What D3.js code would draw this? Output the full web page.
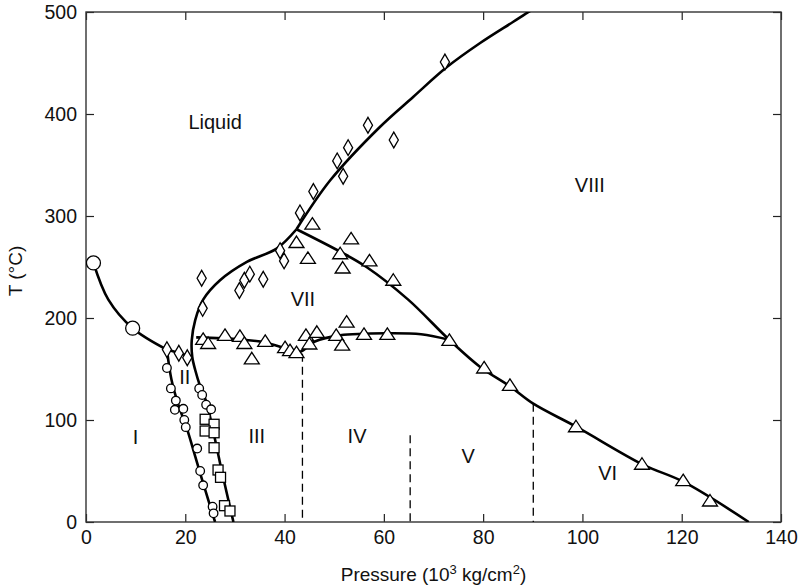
<!DOCTYPE html>
<html>
<head>
<meta charset="utf-8">
<script src="https://cdnjs.cloudflare.com/ajax/libs/d3/7.8.5/d3.min.js"></script>
<style>
  body { margin: 0; background: #fff; }
  svg { font-family: "Liberation Sans", Arial, sans-serif; }
</style>
</head>
<body>
<script>
// phase boundaries, [pressure (10^3 kg/cm2), T (C)]
const meltI = [[1.5, 254], [4.5, 218], [9.4, 190], [16.3, 169]];
const meltII = [[16.3, 169], [21.3, 162]];
const lineI_II = [[16.3, 169], [17.2, 140], [18.6, 115], [20.3, 92], [21.6, 71], [23.6, 38], [26.0, 0]];
const lineIII = [[42.4, 287], [38.4, 268], [32.4, 255], [27.0, 237], [23.6, 218], [22.0, 198], [21.3, 178],
  [21.4, 162], [22.0, 149], [23.0, 133], [24.3, 117], [25.0, 103], [26.3, 74], [27.3, 51], [29.7, 0]];
const meltVIII = [[42.4, 287], [49.2, 335], [59.2, 387.3], [65.9, 416.7], [72.7, 446], [79.4, 469.6],
  [86.0, 490.2], [89.8, 502], [92, 508]];
const lineVII_VIII = [[42.4, 287], [51.2, 265], [56.5, 250], [64.9, 218], [73.3, 178], [79.4, 152],
  [85.4, 133], [90.1, 116], [98.9, 93], [112.3, 56], [120.3, 39.5], [133.5, 0]];
const lineVII_low = [[22.2, 181], [31.0, 179], [36.1, 176], [40.4, 170], [43.1, 167], [46.1, 177],
  [51.2, 183], [60.6, 185], [67.5, 184], [73.3, 178.4]];
const dashed = [[43.6, 165], [65.3, 85], [90.1, 116]];

// measured points
const bigCircles = [[1.5, 254], [9.4, 190]];
const circles = [[16.3, 151], [17.1, 131], [18.1, 119], [17.9, 110], [19.6, 111], [19.8, 100], [20.1, 93],
  [22.4, 72], [23.0, 50], [23.6, 36], [25.5, 15], [25.7, 8.5],
  [22.8, 131], [23.4, 124.5], [24.2, 115], [25.2, 110.5]];
const squares = [[24.0, 100.7], [25.8, 95.8], [24.0, 89.2], [25.8, 87.5], [25.8, 72.8], [26.6, 51],
  [27.1, 43.8], [27.9, 16], [29.0, 10.8]];
const diamonds = [[16.3, 169], [18.7, 165.4], [20.4, 161], [23.3, 239], [23.5, 209.5], [30.9, 227],
  [31.9, 237], [33.0, 243], [35.7, 238], [39.1, 266], [39.9, 256], [43.1, 303], [45.8, 324],
  [50.6, 354], [51.8, 339], [52.8, 367], [56.8, 389], [62.0, 374.5], [72.3, 451]];
const triangles = [[45.6, 292], [42.4, 274], [53.4, 277.5], [51.2, 263], [57.1, 256], [44.7, 258.5],
  [51.7, 249], [61.9, 237], [23.6, 179], [24.6, 175], [28.0, 183], [31.0, 182], [31.9, 175], [33.4, 160],
  [36.1, 177], [40.1, 171], [41.1, 168], [42.4, 166], [44.3, 183], [45.0, 174.5], [46.5, 186],
  [50.4, 183], [51.6, 173.5], [52.5, 196], [56.0, 184], [60.7, 184], [73.2, 178], [80.2, 151],
  [85.4, 134], [98.7, 93.4], [112.0, 56.6], [120.3, 40.5], [125.7, 20.6]];

const phaseLabels = ['Liquid', 'VIII', 'VII', 'II', 'I', 'III', 'IV', 'V', 'VI'];
const phasePos = [[26, 392], [101.5, 330], [43.7, 219], [19.9, 142], [10, 83], [34.4, 84], [54.6, 84], [77, 65], [105.1, 48]];

const xTicks = [0, 20, 40, 60, 80, 100, 120, 140];
const yTicks = [0, 100, 200, 300, 400, 500];

const width = 804, height = 586,
  margin = { top: 12, right: 23, bottom: 64, left: 86 };

const x = d3.scaleLinear().domain([0, 140]).range([margin.left, width - margin.right]);
const y = d3.scaleLinear().domain([0, 500]).range([height - margin.bottom, margin.top]);

const svg = d3.select('body').append('svg')
  .attr('width', width)
  .attr('height', height);

svg.append('clipPath').attr('id', 'plot')
  .append('rect')
  .attr('x', margin.left).attr('y', margin.top)
  .attr('width', width - margin.left - margin.right)
  .attr('height', height - margin.top - margin.bottom);

// axes, ticks pointing inward on all four sides
const axisStyle = g => {
  g.selectAll('.domain').remove();
  g.selectAll('line').attr('stroke', '#222').attr('stroke-width', 1.2);
  g.selectAll('text').attr('font-size', 19.5).attr('fill', '#111');
};

svg.append('g')
  .attr('transform', `translate(0,${y(0)})`)
  .call(d3.axisBottom(x).tickValues(xTicks).tickSize(-8).tickPadding(8))
  .call(axisStyle);
svg.append('g')
  .attr('transform', `translate(0,${y(500)})`)
  .call(d3.axisTop(x).tickValues(xTicks).tickSize(-8).tickFormat(''))
  .call(axisStyle);
svg.append('g')
  .attr('transform', `translate(${x(0)},0)`)
  .call(d3.axisLeft(y).tickValues(yTicks).tickSize(-8).tickPadding(9))
  .call(axisStyle);
svg.append('g')
  .attr('transform', `translate(${x(140)},0)`)
  .call(d3.axisRight(y).tickValues(yTicks).tickSize(-8).tickFormat(''))
  .call(axisStyle);

svg.append('rect')
  .attr('x', x(0)).attr('y', y(500))
  .attr('width', x(140) - x(0)).attr('height', y(0) - y(500))
  .attr('fill', 'none').attr('stroke', '#333').attr('stroke-width', 1.4);

// axis titles
const xt = svg.append('text')
  .attr('x', (x(0) + x(140)) / 2)
  .attr('y', 581)
  .attr('text-anchor', 'middle')
  .attr('font-size', 19)
  .attr('fill', '#111');
xt.append('tspan').text('Pressure (10');
xt.append('tspan').attr('font-size', 13).attr('dy', -7).text('3');
xt.append('tspan').attr('dy', 7).text(' kg/cm');
xt.append('tspan').attr('font-size', 13).attr('dy', -7).text('2');
xt.append('tspan').attr('dy', 7).text(')');

svg.append('text')
  .attr('transform', `translate(22,${(y(0) + y(500)) / 2 + 4}) rotate(-90)`)
  .attr('text-anchor', 'middle')
  .attr('font-size', 19)
  .attr('fill', '#111')
  .text('T (°C)');

// boundaries
const smooth = d3.line().x(d => x(d[0])).y(d => y(d[1])).curve(d3.curveCatmullRom.alpha(0.5));
const plot = svg.append('g').attr('clip-path', 'url(#plot)');

[meltI, meltII, lineI_II, lineIII, meltVIII, lineVII_VIII, lineVII_low].forEach(pts => {
  plot.append('path')
    .attr('d', smooth(pts))
    .attr('fill', 'none')
    .attr('stroke', '#000')
    .attr('stroke-width', 2.6)
    .attr('stroke-linejoin', 'round');
});

plot.selectAll('line.dash')
  .data(dashed)
  .enter().append('line')
  .attr('x1', d => x(d[0])).attr('x2', d => x(d[0]))
  .attr('y1', d => y(d[1])).attr('y2', y(0))
  .attr('stroke', '#000')
  .attr('stroke-width', 1.3)
  .attr('stroke-dasharray', '8,5');

// markers
const mk = { fill: '#fff', stroke: '#000', 'stroke-width': 1.3 };
const applyMk = sel => Object.entries(mk).forEach(([k, v]) => sel.attr(k, v));

plot.selectAll('path.diamond')
  .data(diamonds)
  .enter().append('path')
  .attr('transform', d => `translate(${x(d[0])},${y(d[1])})`)
  .attr('d', d3.symbol().type(d3.symbolDiamond).size(72))
  .call(applyMk);

plot.selectAll('path.tri')
  .data(triangles)
  .enter().append('path')
  .attr('transform', d => `translate(${x(d[0])},${y(d[1])})`)
  .attr('d', 'M0,-6.5L7.5,5L-7.5,5Z')
  .call(applyMk);

plot.selectAll('rect.sq')
  .data(squares)
  .enter().append('rect')
  .attr('x', d => x(d[0]) - 5).attr('y', d => y(d[1]) - 5)
  .attr('width', 10).attr('height', 10)
  .call(applyMk);

plot.selectAll('circle.small')
  .data(circles)
  .enter().append('circle')
  .attr('cx', d => x(d[0])).attr('cy', d => y(d[1]))
  .attr('r', 4.3)
  .call(applyMk);

plot.selectAll('circle.big')
  .data(bigCircles)
  .enter().append('circle')
  .attr('cx', d => x(d[0])).attr('cy', d => y(d[1]))
  .attr('r', 7)
  .call(applyMk);

// phase names
svg.selectAll('text.phase')
  .data(phaseLabels)
  .enter().append('text')
  .attr('x', (d, i) => x(phasePos[i][0]))
  .attr('y', (d, i) => y(phasePos[i][1]))
  .attr('dy', '0.35em')
  .attr('text-anchor', 'middle')
  .attr('font-size', 20)
  .attr('fill', '#111')
  .text(d => d);
</script>
</body>
</html>
